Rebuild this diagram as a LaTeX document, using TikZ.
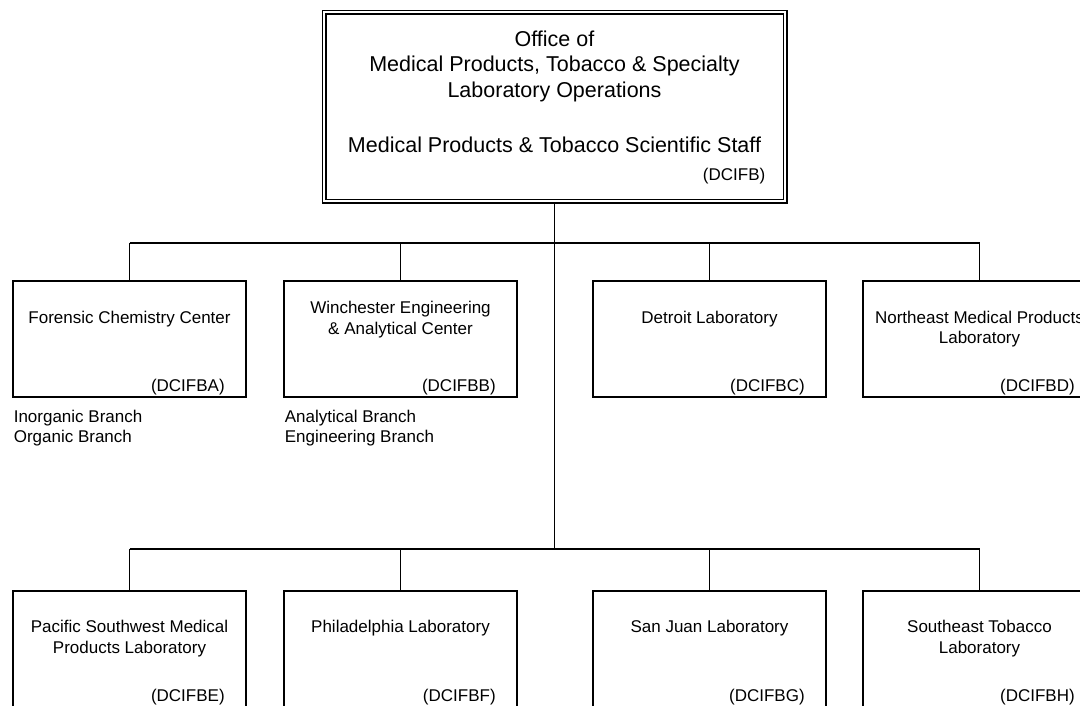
\documentclass[tikz,border=0pt]{standalone}
\usepackage{fontspec}
\setmainfont{Liberation Sans}
\usetikzlibrary{positioning}

\begin{document}
\begin{tikzpicture}[x=1pt,y=-1pt,
  office/.style={draw,double,line width=1.6pt,double distance=1.8pt,outer sep=2.5pt,
    minimum width=461pt,minimum height=189pt,inner sep=0pt},
  unit/.style={draw,line width=1.8pt,minimum width=233pt,minimum height=116pt,inner sep=0pt},
  head/.style={font=\fontsize{21.5}{25.5}\selectfont,align=center,inner sep=0pt},
  title/.style={font=\fontsize{17}{20.5}\selectfont,align=center,inner sep=0pt},
  code/.style={font=\fontsize{17}{20.5}\selectfont,inner sep=0pt,anchor=base east},
  wire/.style={line width=1.8pt}]
  \useasboundingbox (0,0) rectangle (1080,705);

  % head office
  \node[office] (ofc) at (554.5,106.5) {};
  \node[head] (ofc-t) at (554.5,66) {Office of\\Medical Products, Tobacco \& Specialty\\Laboratory Operations};
  \node[head] (ofc-s) at (554.5,145) {Medical Products \& Tobacco Scientific Staff};
  \node[code] (ofc-c) at ([xshift=-22pt,yshift=23pt]ofc.south east) {(DCIFB)};

  % centers and laboratories
  \foreach \n/\x/\y/\d/\t/\c in {
    fcc/129.5/339/30.5/{Forensic Chemistry Center}/DCIFBA,
    weac/400.5/339/21/{Winchester Engineering\\\& Analytical Center}/DCIFBB,
    det/709.5/339/30.5/{Detroit Laboratory}/DCIFBC,
    nemp/979.5/339/30.5/{Northeast Medical Products\\Laboratory}/DCIFBD,
    pswmp/129.5/649/30/{Pacific Southwest Medical\\Products Laboratory}/DCIFBE,
    phl/400.5/649/30/{Philadelphia Laboratory}/DCIFBF,
    sjl/709.5/649/30/{San Juan Laboratory}/DCIFBG,
    setl/979.5/649/30/{Southeast Tobacco\\Laboratory}/DCIFBH}{
    \node[unit] (\n) at (\x,\y) {};
    \node[title,anchor=north] (\n-t) at ([yshift=-\d pt]\n.north) {\t};
    \node[code] (\n-c) at ([xshift=-22pt,yshift=6pt]\n.south east) {(\c)};
  }

  % branches
  \node[title,align=left,anchor=north west] (fcc-b) at ([xshift=1.5pt,yshift=-12pt]fcc.south west) {Inorganic Branch\\Organic Branch};
  \node[title,align=left,anchor=north west] (weac-b) at ([xshift=1.5pt,yshift=-12pt]weac.south west) {Analytical Branch\\Engineering Branch};

  % reporting lines
  \coordinate (upbus) at (554.5,243);
  \coordinate (lowbus) at (554.5,549);
  \draw[wire] (ofc.south) -- (lowbus);
  \draw[wire] (fcc.north |- upbus) -- (nemp.north |- upbus);
  \draw[wire] (pswmp.north |- lowbus) -- (setl.north |- lowbus);
  \foreach \n in {fcc,weac,det,nemp}
    \draw[wire] (\n.north) -- (\n.north |- upbus);
  \foreach \n in {pswmp,phl,sjl,setl}
    \draw[wire] (\n.north) -- (\n.north |- lowbus);
\end{tikzpicture}
\end{document}
